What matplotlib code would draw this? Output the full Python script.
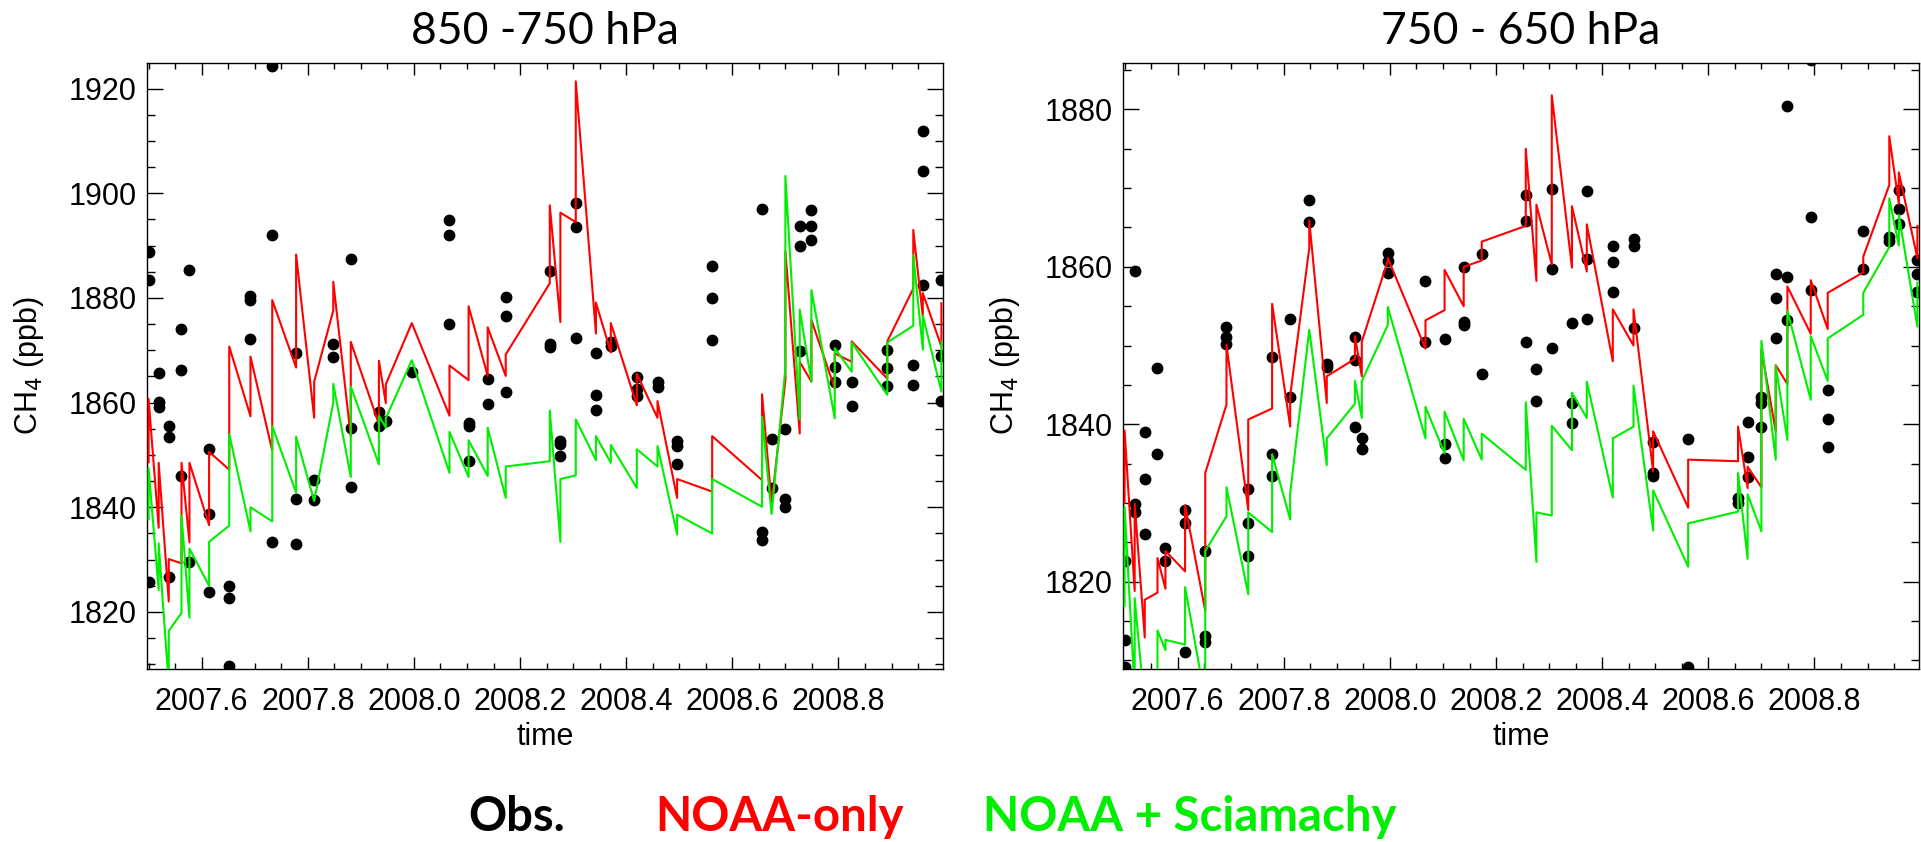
import matplotlib
matplotlib.use('Agg')
import matplotlib.pyplot as plt
from matplotlib.ticker import MultipleLocator, FormatStrFormatter

# profile times (decimal year), shared by both panels
times = [2007.500, 2007.519, 2007.538, 2007.562, 2007.577, 2007.614, 2007.652, 2007.692,
         2007.733, 2007.778, 2007.812, 2007.848, 2007.881, 2007.934, 2007.947, 2007.996,
         2008.067, 2008.103, 2008.139, 2008.173, 2008.256, 2008.276, 2008.305, 2008.343,
         2008.371, 2008.420, 2008.459, 2008.496, 2008.562, 2008.656, 2008.674, 2008.700,
         2008.727, 2008.749, 2008.793, 2008.825, 2008.892, 2008.941, 2008.959, 2008.994]

# 850 - 750 hPa
obs_850 = [[1888.7, 1883.5, 1825.7], [1865.6, 1860.1, 1859.2], [1855.5, 1853.5, 1826.6],
           [1874.0, 1866.3, 1846.0], [1885.4, 1829.6], [1851.1, 1838.8, 1823.8],
           [1824.9, 1822.7, 1809.7], [1880.4, 1879.6, 1872.2], [1924.4, 1892.1, 1833.3],
           [1869.4, 1841.6, 1833.0], [1845.2, 1841.4], [1871.2, 1868.8],
           [1887.4, 1855.2, 1843.8], [1858.3, 1855.5], [1856.4], [1865.9],
           [1894.9, 1892.1, 1875.0], [1856.1, 1855.6, 1848.8], [1864.6, 1859.7],
           [1880.2, 1876.6, 1862.1], [1885.1, 1871.2, 1870.7], [1852.7, 1852.0, 1849.8],
           [1898.1, 1893.5, 1872.3], [1869.4, 1861.5, 1858.5], [1871.6, 1870.8],
           [1864.9, 1862.7, 1861.2], [1863.9, 1862.9], [1852.7, 1851.7, 1848.2],
           [1886.2, 1879.9, 1872.0], [1897.0, 1835.2, 1833.8], [1853.1, 1843.6],
           [1854.9, 1841.5, 1840.1], [1893.8, 1890.0, 1869.9], [1896.8, 1893.8, 1891.1],
           [1871.1, 1866.9, 1864.0], [1863.9, 1859.4], [1870.1, 1866.7, 1863.2],
           [1867.1, 1863.4], [1912.0, 1904.2, 1882.4], [1883.4, 1869.0, 1860.4]]

noaa_850 = [[1848.6, 1860.7], [1836.1, 1848.5], [1822.0, 1830.1], [1829.3, 1848.5],
            [1833.3, 1848.5], [1836.6, 1850.6], [1847.2, 1870.7], [1857.4, 1868.8],
            [1850.8, 1879.6], [1866.7, 1888.3], [1857.1, 1864.0], [1877.6, 1883.1],
            [1853.5, 1871.6], [1855.9, 1868.0], [1859.9, 1863.5], [1875.2],
            [1857.5, 1867.1], [1864.3, 1878.4], [1865.1, 1874.4], [1865.1, 1869.2],
            [1882.8, 1897.7], [1875.4, 1896.3], [1894.5, 1921.4], [1873.2, 1879.1],
            [1869.6, 1875.2], [1859.5, 1865.5], [1857.1, 1860.3], [1841.8, 1845.4],
            [1843.0, 1853.6], [1845.2, 1861.6], [1840.8], [1864.3, 1888.9],
            [1854.1, 1867.8], [1864.0, 1875.8], [1862.7, 1869.4], [1867.8, 1871.7],
            [1864.6, 1871.7], [1881.8, 1893.0], [1876.4, 1880.9], [1870.7, 1879.0]]

scia_850 = [[1837.7, 1847.5], [1824.2, 1833.1], [1806.0, 1816.4], [1819.8, 1838.5],
            [1818.9, 1832.1], [1825.0, 1833.4], [1836.5, 1854.0], [1835.4, 1840.0],
            [1837.3, 1855.5], [1842.8, 1853.5], [1841.2], [1860.0, 1863.6],
            [1845.8, 1863.1], [1848.2, 1857.5], [1855.2, 1857.0], [1868.1],
            [1846.6, 1854.4], [1845.8, 1852.8], [1846.0, 1855.2], [1841.8, 1847.8],
            [1848.8, 1858.5], [1833.4, 1845.4], [1846.1, 1856.8], [1849.0, 1853.6],
            [1848.5, 1851.9], [1843.7, 1851.1], [1847.8, 1851.7], [1834.8, 1838.6],
            [1835.0, 1845.4], [1840.1, 1857.3], [1838.7], [1866.6, 1903.3],
            [1856.8, 1877.8], [1864.0, 1881.5], [1857.0, 1870.4], [1865.9, 1871.5],
            [1861.5, 1871.5], [1874.7, 1888.2], [1870.1, 1876.6], [1862.1, 1871.7]]

# 750 - 650 hPa
obs_750 = [[1822.6, 1812.6, 1809.2], [1859.5, 1829.9, 1828.8], [1839.0, 1833.1, 1826.0],
           [1847.1, 1836.2], [1824.3, 1822.6], [1829.1, 1827.5, 1811.0],
           [1823.9, 1813.1, 1812.3], [1852.4, 1851.1, 1850.2], [1831.8, 1827.5, 1823.3],
           [1848.6, 1836.2, 1833.4], [1853.4, 1843.5], [1868.5, 1865.7],
           [1847.6, 1847.3], [1851.1, 1848.2, 1839.6], [1838.3, 1836.8],
           [1861.7, 1860.8, 1859.2], [1858.2, 1850.4], [1850.8, 1837.5, 1835.7],
           [1860.0, 1853.0, 1852.6], [1861.6, 1846.4], [1869.1, 1865.8, 1850.5],
           [1847.0, 1842.9], [1869.9, 1859.7, 1849.7], [1852.9, 1842.7, 1840.2],
           [1869.6, 1861.0, 1853.4], [1862.7, 1860.6, 1856.8], [1863.5, 1862.7, 1852.2],
           [1837.7, 1833.8, 1833.4], [1838.1, 1809.2], [1830.6, 1830.0],
           [1840.3, 1835.9, 1833.3], [1843.4, 1842.7, 1839.7], [1859.1, 1856.1, 1850.9],
           [1880.4, 1858.7, 1853.3], [1886.3, 1866.3, 1857.1], [1844.4, 1840.7, 1837.1],
           [1864.6, 1859.7], [1863.8, 1863.3], [1869.7, 1867.3, 1865.5],
           [1860.9, 1859.1, 1856.8]]

noaa_750 = [[1830.0, 1839.2], [1818.8, 1829.9], [1812.9, 1817.7], [1818.6, 1823.0],
            [1819.1, 1823.9], [1821.3, 1829.7], [1816.3, 1833.8], [1842.5, 1850.1],
            [1829.1, 1840.6], [1842.0, 1855.3], [1839.7, 1843.6], [1862.4, 1865.9],
            [1842.7, 1846.1], [1848.3, 1851.2], [1846.1, 1850.5], [1860.8, 1861.1],
            [1849.6, 1853.2], [1854.5, 1859.6], [1855.0, 1860.0], [1860.8, 1863.2],
            [1865.2, 1875.0], [1858.2, 1867.9], [1860.3, 1881.8], [1859.9, 1867.7],
            [1859.4, 1865.4], [1848.0, 1854.6], [1850.0, 1854.6], [1834.0, 1839.1],
            [1829.4, 1835.5], [1835.3, 1839.7], [1831.9, 1834.6], [1832.0, 1849.5],
            [1839.1, 1847.5], [1845.1, 1857.5], [1851.5, 1858.3], [1852.1, 1856.7],
            [1859.3, 1861.3], [1870.4, 1876.6], [1868.0, 1872.0], [1861.1, 1865.2]]

scia_750 = [[1816.9, 1829.5], [1806.0, 1817.9], [1804.0], [1806.0, 1813.8],
            [1811.3, 1812.6], [1812.0, 1819.3], [1805.0, 1823.9], [1828.3, 1832.0],
            [1818.4, 1828.8], [1826.3, 1836.2], [1827.9, 1831.2], [1852.0],
            [1834.8, 1838.2], [1842.6, 1845.5], [1840.8, 1845.5], [1852.6, 1854.9],
            [1838.2, 1842.2], [1836.3, 1841.6], [1835.4, 1840.7], [1835.5, 1838.8],
            [1834.2, 1842.8], [1822.5, 1828.8], [1828.4, 1839.8], [1836.7, 1844.0],
            [1840.8, 1845.4], [1830.7, 1838.2], [1839.7, 1844.9], [1826.5, 1831.6],
            [1821.9, 1827.4], [1828.9, 1833.8], [1822.9, 1831.1], [1826.4, 1850.6],
            [1835.5, 1847.4], [1838.0, 1854.4], [1843.1, 1851.2], [1845.5, 1850.9],
            [1853.9, 1856.7], [1862.5, 1868.7], [1862.7, 1866.6], [1852.4, 1858.0]]

titles = ['850 -750 hPa', '750 - 650 hPa']
ylims = [(1809.1, 1924.9), (1808.9, 1885.9)]

RED = '#ff0000'
GREEN = '#00ee00'


def flatten(vals, ordered=False):
    xs, ys = [], []
    for t, v in zip(times, vals):
        if ordered:
            v = sorted(v)
        for y in v:
            xs.append(t)
            ys.append(y)
    return xs, ys


fig = plt.figure(figsize=(19.21, 8.42), dpi=100)

panels = [(obs_850, noaa_850, scia_850), (obs_750, noaa_750, scia_750)]
lefts = [147 / 1921, 1123 / 1921]

for i, (obs, noaa, scia) in enumerate(panels):
    ax = fig.add_axes([lefts[i], 1 - 669 / 842, 796 / 1921, 606 / 842])

    x, y = flatten(obs)
    ax.plot(x, y, 'o', color='black', ms=7.5, mec='black', zorder=2)
    x, y = flatten(noaa, ordered=True)
    ax.plot(x, y, '-', color=RED, lw=1.5, zorder=3)
    x, y = flatten(scia, ordered=True)
    ax.plot(x, y, '-', color=GREEN, lw=1.5, zorder=4)

    ax.set_xlim(2007.497, 2008.997)
    ax.set_ylim(*ylims[i])

    ax.xaxis.set_major_locator(MultipleLocator(0.2))
    ax.xaxis.set_minor_locator(MultipleLocator(0.05))
    ax.xaxis.set_major_formatter(FormatStrFormatter('%.1f'))
    ax.yaxis.set_major_locator(MultipleLocator(20))
    ax.yaxis.set_minor_locator(MultipleLocator(5))
    ax.yaxis.set_major_formatter(FormatStrFormatter('%d'))

    ax.tick_params(which='both', direction='in', top=True, right=True,
                   labelsize=22, width=1)
    ax.tick_params(axis='y', which='major', length=11.5, pad=7.5)
    ax.tick_params(axis='y', which='minor', length=5.8)
    ax.tick_params(axis='x', which='major', length=8.6, pad=13)
    ax.tick_params(axis='x', which='minor', length=4.3)
    for lab in ax.get_xticklabels() + ax.get_yticklabels():
        lab.set_family('Liberation Sans')
    for sp in ax.spines.values():
        sp.set_linewidth(1)

    ax.set_xlabel('time', fontsize=22, family='Liberation Sans')
    ax.xaxis.set_label_coords(0.5, -0.087)
    ax.set_ylabel('CH$_4$ (ppb)', fontsize=22, family='Liberation Sans')
    ax.yaxis.set_label_coords(-0.127, 0.5)

    ax.text(0.5, 1 + 19 / 606, titles[i], transform=ax.transAxes, ha='center',
            va='baseline', fontsize=32, family='Lato')

# colour key under the panels
fig.text(468 / 1921, 11 / 842, 'Obs.', color='black', fontsize=34,
         family='Lato', weight='bold', va='baseline')
fig.text(655 / 1921, 11 / 842, 'NOAA-only', color=RED, fontsize=34,
         family='Lato', weight='bold', va='baseline')
fig.text(983 / 1921, 11 / 842, 'NOAA + Sciamachy', color=GREEN, fontsize=34,
         family='Lato', weight='bold', va='baseline')

plt.rcParams['mathtext.fontset'] = 'custom'
fig.savefig('out.png', dpi=100)
